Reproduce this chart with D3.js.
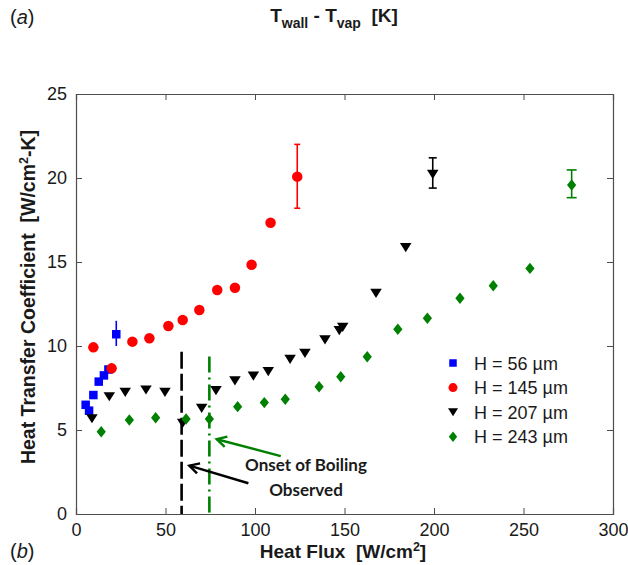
<!DOCTYPE html>
<html>
<head>
<meta charset="utf-8">
<script src="https://cdn.jsdelivr.net/npm/d3@7"></script>
<style>
  html, body { margin: 0; padding: 0; background: #fff; }
  svg { display: block; }
  text { font-family: "Liberation Sans", Arial, sans-serif; fill: #1a1a1a; white-space: pre; }
</style>
</head>
<body>
<svg id="chart" width="628" height="565"></svg>
<script>
// Heat transfer coefficient vs. heat flux for four channel heights
const xTicks = [0, 50, 100, 150, 200, 250, 300];
const yTicks = [0, 5, 10, 15, 20, 25];

const h56Flux = [5.4, 7.3, 9.7, 12.7, 15.6, 18.1, 22.5];
const h56HTC  = [6.5, 6.15, 7.08, 7.88, 8.25, 8.6, 10.7];
const h56Err  = [null, null, null, null, null, null, [10.0, 11.5]];

const h145Flux = [9.7, 19.9, 31.5, 41, 51.6, 59.6, 68.9, 78.9, 88.8, 98.1, 108.7, 123.6];
const h145HTC  = [9.92, 8.67, 10.26, 10.46, 11.19, 11.55, 12.14, 13.33, 13.47, 14.84, 17.34, 20.08];
const h145Err  = [null, null, null, null, null, null, null, null, null, null, null, [18.2, 22.0]];

const h207Flux = [8.9, 18.6, 27.5, 39.1, 49.7, 59.6, 70.2, 78.2, 88.8, 99.1, 107.4, 119.6, 127.9, 139.1, 147.1, 149, 167.6, 184.2, 199.3];
const h207HTC  = [5.67, 6.98, 7.24, 7.38, 7.24, 5.4, 6.29, 7.34, 7.93, 8.21, 8.47, 9.2, 9.56, 10.36, 10.91, 11.11, 13.13, 15.85, 20.22];
const h207Err  = [null, null, null, null, null, null, null, null, null, null, null, null, null, null, null, null, null, null, [19.4, 21.2]];

const h243Flux = [14.1, 29.8, 44.5, 61.5, 74.5, 90.3, 105.2, 116.9, 135.8, 147.9, 162.7, 179.8, 196.3, 214.5, 233.1, 253.6, 276.9];
const h243HTC  = [4.9, 5.6, 5.73, 5.65, 5.65, 6.39, 6.63, 6.83, 7.58, 8.17, 9.36, 11.0, 11.65, 12.84, 13.59, 14.62, 19.58];
const h243Err  = [null, null, null, null, null, null, null, null, null, null, null, null, null, null, null, null, [18.83, 20.48]];

const seriesLabels = ["H = 56 \u00B5m", "H = 145 \u00B5m", "H = 207 \u00B5m", "H = 243 \u00B5m"];
const seriesColors = ["#0000ff", "#ff0000", "#000000", "#008000"];
const seriesShapes = ["square", "circle", "triangleDown", "diamond"];

// Onset-of-boiling markers: flux position and top of the vertical line
const onsetFlux = [59, 74.5];
const onsetTop  = [9.66, 9.37];

const svg = d3.select("#chart");
const margin = { left: 76, right: 15, top: 94, bottom: 51 };
const W = 628, H = 565;

const x = d3.scaleLinear().domain([0, 300]).range([margin.left, W - margin.right]);
const y = d3.scaleLinear().domain([0, 25]).range([H - margin.bottom, margin.top]);

function shapePath(kind, s) {
  if (kind === "square") {
    const h = s / 2;
    return `M${-h},${-h}H${h}V${h}H${-h}Z`;
  }
  if (kind === "circle") {
    const r = s / 2;
    return `M${r},0A${r},${r},0,1,1,${-r},0A${r},${r},0,1,1,${r},0Z`;
  }
  if (kind === "triangleDown") {
    const w = s * 0.5, t = s * 0.4;
    return `M${-w},${-t}L${w},${-t}L0,${t}Z`;
  }
  // diamond
  const w = s * 0.42, hgt = s * 0.52;
  return `M0,${-hgt}L${w},0L0,${hgt}L${-w},0Z`;
}

const series = [
  { fx: h56Flux, hy: h56HTC, err: h56Err, size: 8.5, cap: 0 },
  { fx: h145Flux, hy: h145HTC, err: h145Err, size: 10.5, cap: 3 },
  { fx: h207Flux, hy: h207HTC, err: h207Err, size: 11.5, cap: 4 },
  { fx: h243Flux, hy: h243HTC, err: h243Err, size: 11, cap: 5 }
];

// Axes box with inward ticks on all sides
const axisColor = "#4d4d4d";
const g = svg.append("g");

const xAxisB = d3.axisBottom(x).tickValues(xTicks).tickSize(-6).tickPadding(9).tickFormat(d3.format("d"));
const xAxisT = d3.axisTop(x).tickValues(xTicks).tickSize(-6).tickFormat("");
const yAxisL = d3.axisLeft(y).tickValues(yTicks).tickSize(-6).tickPadding(9).tickFormat(d3.format("d"));
const yAxisR = d3.axisRight(y).tickValues(yTicks).tickSize(-6).tickFormat("");

function styleAxis(sel) {
  sel.select(".domain").attr("stroke", axisColor).attr("stroke-width", 1.2);
  sel.selectAll(".tick line").attr("stroke", axisColor).attr("stroke-width", 1);
  sel.selectAll(".tick text").attr("font-size", 18).attr("fill", "#1a1a1a")
    .attr("font-family", "'Liberation Sans', Arial, sans-serif");
}

g.append("g").attr("transform", `translate(0,${y(0)})`).call(xAxisB).call(styleAxis);
g.append("g").attr("transform", `translate(0,${y(25)})`).call(xAxisT).call(styleAxis);
g.append("g").attr("transform", `translate(${x(0)},0)`).call(yAxisL).call(styleAxis);
g.append("g").attr("transform", `translate(${x(300)},0)`).call(yAxisR).call(styleAxis);

// Onset-of-boiling vertical lines
svg.append("line")
  .attr("x1", x(onsetFlux[0])).attr("x2", x(onsetFlux[0]))
  .attr("y1", y(onsetTop[0])).attr("y2", y(0))
  .attr("stroke", "#000").attr("stroke-width", 2.6)
  .attr("stroke-dasharray", "17,5");
svg.append("line")
  .attr("x1", x(onsetFlux[1])).attr("x2", x(onsetFlux[1]))
  .attr("y1", y(onsetTop[1])).attr("y2", y(0))
  .attr("stroke", "#008000").attr("stroke-width", 2.6)
  .attr("stroke-dasharray", "16,5,2,5");

// Data markers and error bars
series.forEach((s, i) => {
  const col = seriesColors[i];
  const pts = s.fx.map((f, k) => ({ f, v: s.hy[k], e: s.err[k] }));
  const eg = svg.append("g").attr("stroke", col).attr("stroke-width", 1.6);
  pts.filter(p => p.e).forEach(p => {
    eg.append("line").attr("x1", x(p.f)).attr("x2", x(p.f))
      .attr("y1", y(p.e[0])).attr("y2", y(p.e[1]));
    if (s.cap > 0) {
      p.e.forEach(v => {
        eg.append("line").attr("x1", x(p.f) - s.cap).attr("x2", x(p.f) + s.cap)
          .attr("y1", y(v)).attr("y2", y(v));
      });
    }
  });
  svg.append("g").selectAll("path").data(pts).join("path")
    .attr("d", shapePath(seriesShapes[i], s.size))
    .attr("transform", p => `translate(${x(p.f)},${y(p.v)})`)
    .attr("fill", col);
});

// Annotation arrows
const arrows = [
  { from: [114.4, 3.45], to: [78.6, 4.45], color: "#008000" },
  { from: [96.3, 1.83], to: [63.3, 2.88], color: "#000" }
];
arrows.forEach(a => {
  const x1 = x(a.from[0]), y1 = y(a.from[1]), x2 = x(a.to[0]), y2 = y(a.to[1]);
  svg.append("line").attr("x1", x1).attr("y1", y1).attr("x2", x2).attr("y2", y2)
    .attr("stroke", a.color).attr("stroke-width", 2.4);
  // open chevron head at the tip
  const ang = Math.atan2(y1 - y2, x1 - x2);
  const L = 11, spread = 0.5;
  const p1 = [x2 + L * Math.cos(ang + spread), y2 + L * Math.sin(ang + spread)];
  const p2 = [x2 + L * Math.cos(ang - spread), y2 + L * Math.sin(ang - spread)];
  svg.append("path").attr("d", `M${p1[0]},${p1[1]}L${x2},${y2}L${p2[0]},${p2[1]}`)
    .attr("fill", "none").attr("stroke", a.color).attr("stroke-width", 2.4);
});

svg.append("text").attr("x", x(128.5)).attr("y", y(2.55))
  .attr("text-anchor", "middle").style("font-family", "Lato, sans-serif")
  .attr("font-weight", 700).attr("font-size", 17)
  .text("Onset of Boiling");
svg.append("text").attr("x", x(128.5)).attr("y", y(1.05))
  .attr("text-anchor", "middle").style("font-family", "Lato, sans-serif")
  .attr("font-weight", 700).attr("font-size", 17)
  .text("Observed");

// Legend
const legX = 453, legTextX = 474, legY0 = 363, legDy = 24.6;
const legSizes = [7.5, 9, 10, 10];
seriesLabels.forEach((lab, i) => {
  const yy = legY0 + i * legDy;
  svg.append("path").attr("d", shapePath(seriesShapes[i], legSizes[i]))
    .attr("transform", `translate(${legX},${yy})`).attr("fill", seriesColors[i]);
  svg.append("text").attr("x", legTextX).attr("y", yy + 6.5)
    .attr("font-size", 18).text(lab);
});

// Axis titles
const xt = svg.append("text").attr("x", 343).attr("y", 558)
  .attr("text-anchor", "middle").attr("font-weight", 700).attr("font-size", 19);
xt.append("tspan").text("Heat Flux\u00A0\u00A0[W/cm");
xt.append("tspan").attr("font-size", 12.5).attr("dy", -7.5).text("2");
xt.append("tspan").attr("dy", 7.5).text("]");

const yt = svg.append("text")
  .attr("transform", `translate(35,297) rotate(-90)`)
  .attr("text-anchor", "middle").attr("font-weight", 700).attr("font-size", 19.5);
yt.append("tspan").text("Heat Transfer Coefficient\u00A0\u00A0[W/cm");
yt.append("tspan").attr("font-size", 12.5).attr("dy", -7.5).text("2");
yt.append("tspan").attr("dy", 7.5).text("-K]");

// Upper panel remnants: temperature-difference axis title and panel letters
const tt = svg.append("text").attr("x", 334).attr("y", 22)
  .attr("text-anchor", "middle").attr("font-weight", 700).attr("font-size", 19);
tt.append("tspan").text("T");
tt.append("tspan").attr("font-size", 14).attr("dy", 6).text("wall");
tt.append("tspan").attr("dy", -6).text(" - T");
tt.append("tspan").attr("font-size", 14).attr("dy", 6).text("vap");
tt.append("tspan").attr("dy", -6).text("\u00A0\u00A0[K]");

function panelLetter(letter, px, py) {
  const t = svg.append("text").attr("x", px).attr("y", py).attr("font-size", 20);
  t.append("tspan").text("(");
  t.append("tspan").attr("font-style", "italic").text(letter);
  t.append("tspan").text(")");
}
panelLetter("a", 10, 24);
panelLetter("b", 10, 558);
</script>
</body>
</html>
